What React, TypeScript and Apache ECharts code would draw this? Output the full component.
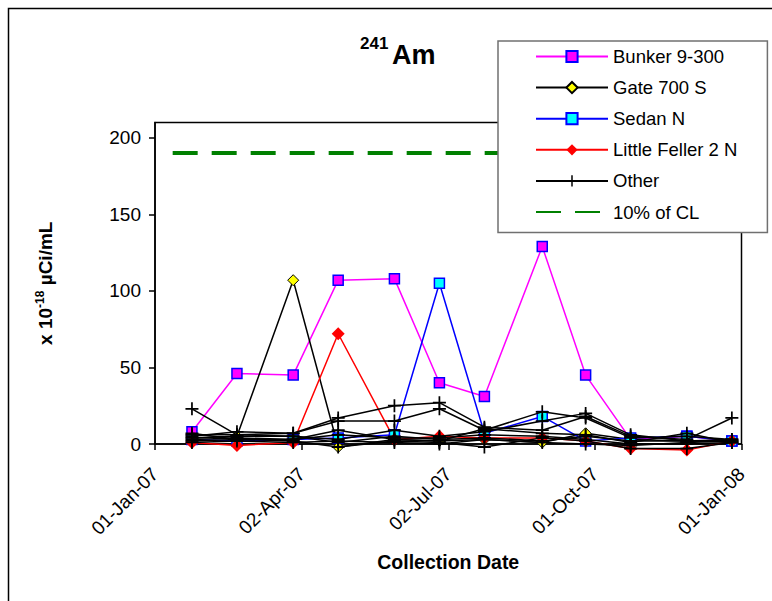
import React, { useEffect, useRef } from "react";
import * as echarts from "echarts";

const FONT = "'Liberation Sans', Arial, sans-serif";

const sampleDates = [
  "2007-01-24", "2007-02-21", "2007-03-28", "2007-04-25", "2007-05-30", "2007-06-27",
  "2007-07-25", "2007-08-30", "2007-09-26", "2007-10-24", "2007-11-28", "2007-12-26",
];

const bunker = [8, 46, 45, 107, 108, 40, 31, 129, 45, 3, 5, 2];
const gate = [4, 5, 107, -2, 3, 2, 3, 1, 7, 3, 2, 2];
const sedan = [3, 2, 3, 4, 6, 105, 7, 18, 2, 4, 5, 2];
const littleFeller = [1, -1, 1, 72, 3, 5, 4, 4, 2, -3, -4, 2];

const other1 = [23, 6, 7, 17, 25, 27, 11, 9, 18, 5, 3, 17];
const other2 = [5, 8, 7, 15, 15, 23, 9, 21, 17, 4, 5, 3];
const other3 = [6, 6, 5, 3, 9, 5, 8, 15, 20, 6, 2, 2];
const other4 = [3, 4, 3, 9, 3, 2, 10, 7, 6, 1, 7, 1];
const other5 = [2, 3, 2, -2, 2, 1, -2, 4, 2, -3, -3, 1];
const other6 = [4, 5, 5, 1, 5, 3, 4, 2, 5, 2, 2, 3];
const other7 = [1, 2, 1, 2, 1, 0, 3, 1, 0, -1, 1, 2];
const other8 = [7, 3, 3, 6, 4, 4, 6, 5, 3, 0, 0, 1];
const others = [other1, other2, other3, other4, other5, other6, other7, other8];

const clDates = ["2007-01-12", "2007-12-31"];
const clValues = [190, 190];

const xTickValues = [0, 91.25, 182.5, 273.75, 365];
const yTickValues = [0, 50, 100, 150, 200];

const MONTHS = ["Jan", "Feb", "Mar", "Apr", "May", "Jun", "Jul", "Aug", "Sep", "Oct", "Nov", "Dec"];
const BASE = Date.UTC(2007, 0, 1);
const DAY = 86400000;

function toDay(s: string): number {
  const [y, m, d] = s.split("-").map(Number);
  return (Date.UTC(y, m - 1, d) - BASE) / DAY;
}
function fmtDay(v: number): string {
  const dt = new Date(BASE + Math.floor(v + 1e-6) * DAY);
  const dd = String(dt.getUTCDate()).padStart(2, "0");
  const yy = String(dt.getUTCFullYear() % 100).padStart(2, "0");
  return `${dd}-${MONTHS[dt.getUTCMonth()]}-${yy}`;
}
function pairs(dates: string[], vals: number[]) {
  return dates.map((d, i) => [toDay(d), vals[i]]);
}

const PLUS = "path://M5.2,0H6.8V5.2H12V6.8H6.8V12H5.2V6.8H0V5.2H5.2Z";

export default function App() {
  const ref = useRef<HTMLDivElement>(null);
  useEffect(() => {
    if (!ref.current) return;
    const chart = echarts.init(ref.current, null, { renderer: "svg" });
    const base = {
      type: "line" as const,
      clip: false,
      animation: false,
    };
    const series: any[] = [
      {
        ...base,
        name: "10% of CL",
        data: pairs(clDates, clValues),
        symbol: "none",
        lineStyle: { color: "#008000", width: 4, type: [25, 14] },
        itemStyle: { color: "#008000" },
        z: 1,
      },
      {
        ...base,
        name: "Bunker 9-300",
        data: pairs(sampleDates, bunker),
        symbol: "rect",
        symbolSize: 10,
        lineStyle: { color: "#FF00FF", width: 1.5 },
        itemStyle: { color: "#FF00FF", borderColor: "#0000FF", borderWidth: 1.5 },
        z: 3,
      },
      {
        ...base,
        name: "Gate 700 S",
        data: pairs(sampleDates, gate),
        symbol: "diamond",
        symbolSize: 11,
        lineStyle: { color: "#000000", width: 1.5 },
        itemStyle: { color: "#FFFF00", borderColor: "#000000", borderWidth: 1 },
        z: 3,
      },
      {
        ...base,
        name: "Sedan N",
        data: pairs(sampleDates, sedan),
        symbol: "rect",
        symbolSize: 10,
        lineStyle: { color: "#0000FF", width: 1.5 },
        itemStyle: { color: "#00FFFF", borderColor: "#0000FF", borderWidth: 1.5 },
        z: 3,
      },
      {
        ...base,
        name: "Little Feller 2 N",
        data: pairs(sampleDates, littleFeller),
        symbol: "diamond",
        symbolSize: 13,
        lineStyle: { color: "#FF0000", width: 1.5 },
        itemStyle: { color: "#FF0000", borderColor: "#FF0000", borderWidth: 0 },
        z: 3,
      },
      ...others.map((vals) => ({
        ...base,
        name: "Other",
        data: pairs(sampleDates, vals),
        symbol: PLUS,
        symbolSize: 13,
        lineStyle: { color: "#000000", width: 1.5 },
        itemStyle: { color: "#000000" },
        z: 4,
      })),
    ];

    chart.setOption({
      animation: false,
      backgroundColor: "#ffffff",
      textStyle: { fontFamily: FONT },
      grid: {
        left: 155,
        right: 30.5,
        top: 122.5,
        bottom: 157,
        show: true,
        borderColor: "#000",
        borderWidth: 1.5,
        backgroundColor: "transparent",
      },
      xAxis: {
        type: "value",
        min: 0,
        max: 365,
        interval: 91.25,
        name: "Collection Date",
        nameLocation: "middle",
        nameGap: 108,
        nameTextStyle: { fontFamily: FONT, fontSize: 19.5, fontWeight: "bold", color: "#000" },
        axisLine: { show: true, onZero: false, lineStyle: { color: "#000", width: 1.5 } },
        axisTick: { show: true, inside: false, length: 6, lineStyle: { color: "#000", width: 1.5 }, customValues: xTickValues },
        axisLabel: {
          rotate: 45,
          margin: 27,
          fontFamily: FONT,
          fontSize: 19,
          color: "#000",
          customValues: xTickValues,
          formatter: (v: number) => fmtDay(v),
        },
        splitLine: { show: false },
      },
      yAxis: {
        type: "value",
        min: 0,
        max: 210,
        name: "x 10{sup|-18} µCi/mL",
        nameLocation: "middle",
        nameRotate: 90,
        nameGap: 98,
        nameTextStyle: {
          fontFamily: FONT,
          fontSize: 19,
          fontWeight: "bold",
          color: "#000",
          lineHeight: 23,
          rich: {
            sup: { fontFamily: FONT, fontSize: 12, fontWeight: "bold", color: "#000", verticalAlign: "top", lineHeight: 23 },
          },
        },
        axisLine: { show: true, lineStyle: { color: "#000", width: 1.5 } },
        axisTick: { show: true, inside: false, length: 6, lineStyle: { color: "#000", width: 1.5 }, customValues: yTickValues },
        axisLabel: { margin: 14, fontFamily: FONT, fontSize: 19, color: "#000", customValues: yTickValues },
        splitLine: { show: false },
      },
      legend: {
        orient: "vertical",
        left: 498,
        top: 41,
        data: [
          "Bunker 9-300",
          "Gate 700 S",
          "Sedan N",
          "Little Feller 2 N",
          "Other",
          { name: "10% of CL", itemStyle: { opacity: 0 } },
        ],
        itemWidth: 72,
        itemHeight: 14,
        itemGap: 12.1,
        padding: [6, 30, 11, 37],
        backgroundColor: "#ffffff",
        borderColor: "#707070",
        borderWidth: 1.5,
        textStyle: { fontFamily: FONT, fontSize: 18.5, color: "#000", lineHeight: 18 },
        selectedMode: false,
        z: 10,
      },
      graphic: [
        {
          type: "rect",
          silent: true,
          shape: { x: 8.5, y: 8.5, width: 900, height: 800 },
          style: { fill: "none", stroke: "#000", lineWidth: 1.5 },
          z: 0,
        },
        {
          type: "text",
          x: 360,
          y: 43,
          style: { text: "241", font: `bold 17px ${FONT}`, fill: "#000", align: "left", verticalAlign: "middle" },
        },
        {
          type: "text",
          x: 392,
          y: 55,
          style: { text: "Am", font: `bold 27px ${FONT}`, fill: "#000", align: "left", verticalAlign: "middle" },
        },
      ],
      series,
    });
    return () => chart.dispose();
  }, []);
  return <div ref={ref} style={{ position: "absolute", left: 0, top: 0, width: 772, height: 601 }} />;
}
